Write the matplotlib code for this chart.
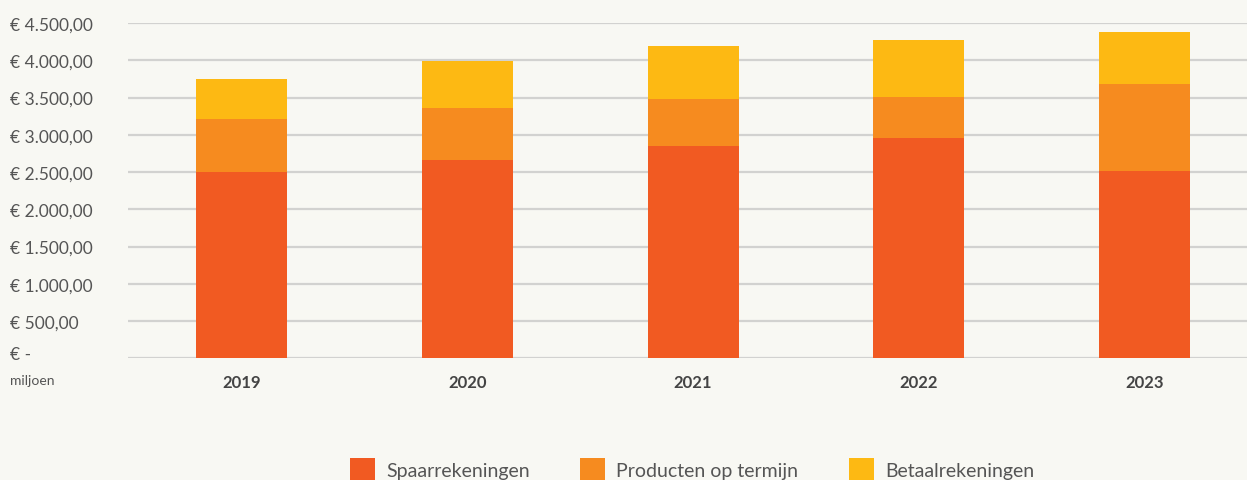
import matplotlib.pyplot as plt
import numpy as np
from matplotlib.transforms import ScaledTranslation

plt.rcParams['font.family'] = ['Lato', 'DejaVu Sans']

# data (miljoen euro)
years = ['2019', '2020', '2021', '2022', '2023']
spaar = [2500, 2666, 2849, 2957, 2514]
termijn = [712, 693, 635, 550, 1168]
betaal = [536, 635, 707, 765, 697]
series = ['Spaarrekeningen', 'Producten op termijn', 'Betaalrekeningen']
colors = ['#F15A22', '#F68B1F', '#FDB913']
yticks = [0, 500, 1000, 1500, 2000, 2500, 3000, 3500, 4000, 4500]
ylabels = ['€ -', '€ 500,00', '€ 1.000,00', '€ 1.500,00', '€ 2.000,00', '€ 2.500,00',
           '€ 3.000,00', '€ 3.500,00', '€ 4.000,00', '€ 4.500,00']

bg = '#F8F8F3'
fig = plt.figure(figsize=(12.47, 4.81), dpi=100, facecolor=bg)
ax = fig.add_axes([128/1247, 1-359.3/481, 1-128/1247, (359.3-24)/481])
ax.set_facecolor(bg)

x = np.arange(len(years))
w = 0.403
bottom = np.zeros(len(years))
for vals, name, c in zip([spaar, termijn, betaal], series, colors):
    ax.bar(x, vals, w, bottom=bottom, color=c, label=name, zorder=3)
    bottom += np.array(vals)

ax.set_xlim(-0.503, 4.454)
ax.set_ylim(0, 4500)
ax.set_yticks(yticks)
ax.set_yticklabels(ylabels)
ax.set_xticks(x)
ax.set_xticklabels(years, fontweight='bold')
ax.grid(axis='y', color='#D2D2D0', linewidth=1.6, zorder=0)
for s in ax.spines.values():
    s.set_visible(False)
ax.tick_params(axis='y', length=0, pad=85, labelsize=12.5, labelcolor='#555555')
ax.tick_params(axis='x', length=0, pad=11, labelsize=12, labelcolor='#444444')
for t in ax.get_yticklabels():
    t.set_ha('left')
# lift "€ -" a bit like in the original
zero = ax.get_yticklabels()[0]
zero.set_transform(zero.get_transform() + ScaledTranslation(0, 6/100, fig.dpi_scale_trans))
fig.text(10/1247, 1-381/481, 'miljoen', fontsize=10, color='#555555', va='center', ha='left')

fig.legend(loc='center', bbox_to_anchor=(692/1247, 1-470/481), ncol=3, frameon=False,
           fontsize=14, handlelength=1.3, handleheight=1.3, handletextpad=0.57,
           columnspacing=2.6, labelcolor='#555555')

fig.savefig('out.png', dpi=100, facecolor=bg)
